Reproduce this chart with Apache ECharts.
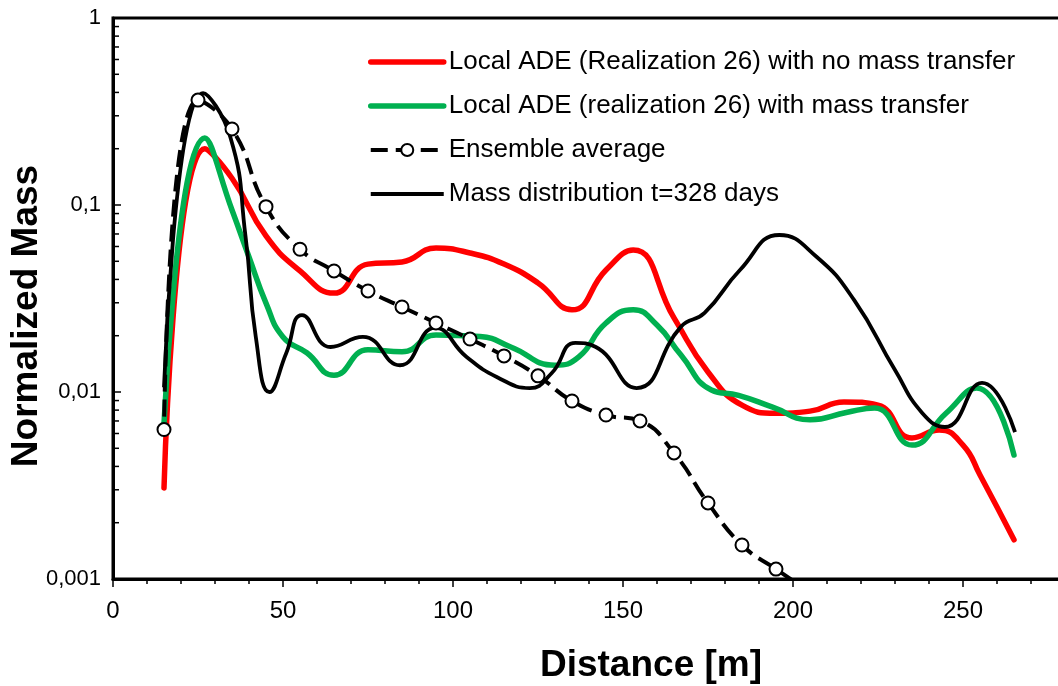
<!DOCTYPE html>
<html lang="en">
<head>
<meta charset="UTF-8">
<title>Normalized Mass vs Distance</title>
<script src="https://cdn.jsdelivr.net/npm/echarts@6/dist/echarts.min.js"></script>
<style>html,body{margin:0;padding:0;background:#fff;}</style>
</head>
<body>
<div id="main" style="width:1058px;height:686px;"></div>
<script>
  // [distance m, normalized mass]
  const redNoTransfer = [
    [15, 0.00307], [27, 0.2], [35, 0.139], [45, 0.0683], [55, 0.0444], [65, 0.0338],
    [75, 0.0483], [85, 0.0496], [95, 0.0589], [105, 0.0554], [115, 0.0483], [125, 0.0383],
    [135, 0.0275], [145, 0.0449], [153, 0.0574], [165, 0.0249], [175, 0.0128], [185, 0.0085],
    [195, 0.0077], [205, 0.0079], [215, 0.00885], [225, 0.0085], [235, 0.00568], [243, 0.00626],
    [250, 0.0052], [255, 0.0036], [265, 0.00162]
  ];
  const greenTransfer = [
    [15, 0.0068], [27, 0.228], [35, 0.094], [40, 0.0527], [45, 0.0299], [50, 0.0197],
    [57, 0.0162], [65, 0.0123], [75, 0.0168], [85, 0.0164], [95, 0.0202], [108, 0.0198],
    [117, 0.0174], [130, 0.0139], [137, 0.0154], [145, 0.0234], [153, 0.0275], [160, 0.0228],
    [167, 0.0158], [176, 0.01025], [184, 0.0096], [194, 0.0083], [205, 0.0071], [216, 0.0078],
    [224, 0.0082], [235, 0.0052], [245, 0.0077], [254, 0.0105], [265, 0.0046]
  ];
  const ensembleAvg = [
    [15, 0.0063], [25, 0.364], [35, 0.255], [45, 0.098], [55, 0.058], [65, 0.0444],
    [75, 0.0347], [85, 0.0285], [95, 0.0234], [105, 0.0192], [115, 0.0156], [125, 0.0122],
    [135, 0.00895], [145, 0.00753], [155, 0.0070], [165, 0.00472], [175, 0.00255],
    [185, 0.00152], [195, 0.00113], [205, 0.00085]
  ];
  const massT328 = [
    [15, 0.0106], [26.5, 0.397], [34.5, 0.231], [39, 0.0675], [42, 0.0197], [46, 0.0100],
    [51, 0.0162], [55.6, 0.0258], [64, 0.0174], [73.5, 0.0197], [84.4, 0.0139], [94.7, 0.022],
    [104, 0.0154], [113, 0.012], [122.6, 0.0105], [129, 0.0126], [136, 0.0183], [142, 0.0174],
    [154, 0.0105], [167, 0.0223], [174, 0.0265], [184.4, 0.0449], [196, 0.0691], [207, 0.0527],
    [218, 0.031], [230, 0.0131], [238, 0.00773], [244.7, 0.0065], [255.6, 0.0112], [265.3, 0.0061]
  ];
  const names = [
    'Local ADE (Realization 26) with no mass transfer',
    'Local ADE (realization 26) with mass transfer',
    'Ensemble average',
    'Mass distribution t=328 days'
  ];

  // minor log ticks on the y axis (2..9 in every decade)
  const yMinorTicks = [];
  [0.001, 0.01, 0.1].forEach(d => {
    for (let k = 2; k <= 9; k++) yMinorTicks.push([0, +(d * k).toPrecision(3)]);
  });

  const font = 'Liberation Sans, Arial, sans-serif';
  const noDot = {opacity: 0};
  const myChart = echarts.init(document.getElementById('main'));
  const option = {
    animation: false,
    grid: {
      left: 113, top: 18, width: 1020, height: 561,
      outerBoundsMode: 'none', containLabel: false,
      show: true, borderColor: '#000', borderWidth: 3
    },
    legend: {
      orient: 'vertical',
      left: 368, top: 49, padding: 0,
      itemWidth: 73, itemHeight: 15, itemGap: 18,
      data: [
        {name: names[0], itemStyle: noDot, lineStyle: {width: 5.5, color: '#ff0000'}},
        {name: names[1], itemStyle: noDot, lineStyle: {width: 5.5, color: '#00b050'}},
        {name: names[2], lineStyle: {width: 4, color: '#000', type: [17, 8], dashOffset: 0}},
        {name: names[3], itemStyle: noDot, lineStyle: {width: 4, color: '#000'}}
      ],
      textStyle: {fontFamily: font, fontSize: 26, color: '#000', lineHeight: 26}
    },
    xAxis: {
      type: 'value', min: 0, max: 300, interval: 50,
      name: 'Distance [m]', nameLocation: 'middle', nameGap: 68,
      nameTextStyle: {fontFamily: font, fontSize: 37, fontWeight: 'bold', color: '#000', padding: [0, 0, 0, 56]},
      axisLine: {lineStyle: {color: '#000', width: 3}},
      axisTick: {inside: false, length: 8, lineStyle: {color: '#000', width: 1.5}},
      minorTick: {show: true, splitNumber: 5, length: 5, lineStyle: {color: '#000', width: 1.5}},
      splitLine: {show: false},
      axisLabel: {fontFamily: font, fontSize: 24, color: '#000', margin: 20}
    },
    yAxis: {
      type: 'log', logBase: 10, min: 0.001, max: 1,
      name: 'Normalized Mass', nameLocation: 'middle', nameGap: 68, nameRotate: 90,
      nameMoveOverlap: false,
      nameTextStyle: {fontFamily: font, fontSize: 37, fontWeight: 'bold', color: '#000', padding: [0, 35, 0, 0]},
      axisLine: {show: true, lineStyle: {color: '#000', width: 3}},
      axisTick: {inside: true, length: 8, lineStyle: {color: '#000', width: 1.5}},
      splitLine: {show: false},
      axisLabel: {
        fontFamily: font, fontSize: 22, color: '#000', margin: 12,
        formatter: v => String(Number(v.toPrecision(6))).replace('.', ',')
      }
    },
    series: [
      {
        name: names[0], type: 'line', smooth: 0.5, symbol: 'none',
        data: redNoTransfer, color: '#ff0000',
        lineStyle: {color: '#ff0000', width: 5.5, cap: 'round'}
      },
      {
        name: names[1], type: 'line', smooth: 0.5, symbol: 'none',
        data: greenTransfer, color: '#00b050',
        lineStyle: {color: '#00b050', width: 5.5, cap: 'round'}
      },
      {
        name: names[2], type: 'line', smooth: 0.5,
        symbol: 'circle', symbolSize: 13,
        data: ensembleAvg, color: '#000',
        itemStyle: {color: '#fff', borderColor: '#000', borderWidth: 2},
        lineStyle: {color: '#000', width: 4, type: [17, 8], dashOffset: 12}
      },
      {
        name: names[3], type: 'line', smooth: 0.5, symbol: 'none',
        data: massT328, color: '#000',
        lineStyle: {color: '#000', width: 3.8}
      },
      {
        type: 'custom', silent: true, data: yMinorTicks,
        renderItem: (params, api) => {
          const p = api.coord([0, api.value(1)]);
          return {
            type: 'line',
            shape: {x1: p[0], y1: p[1], x2: p[0] + 6, y2: p[1]},
            style: {stroke: '#000', lineWidth: 1.5}
          };
        }
      }
    ]
  };
  myChart.setOption(option);
</script>
</body>
</html>
